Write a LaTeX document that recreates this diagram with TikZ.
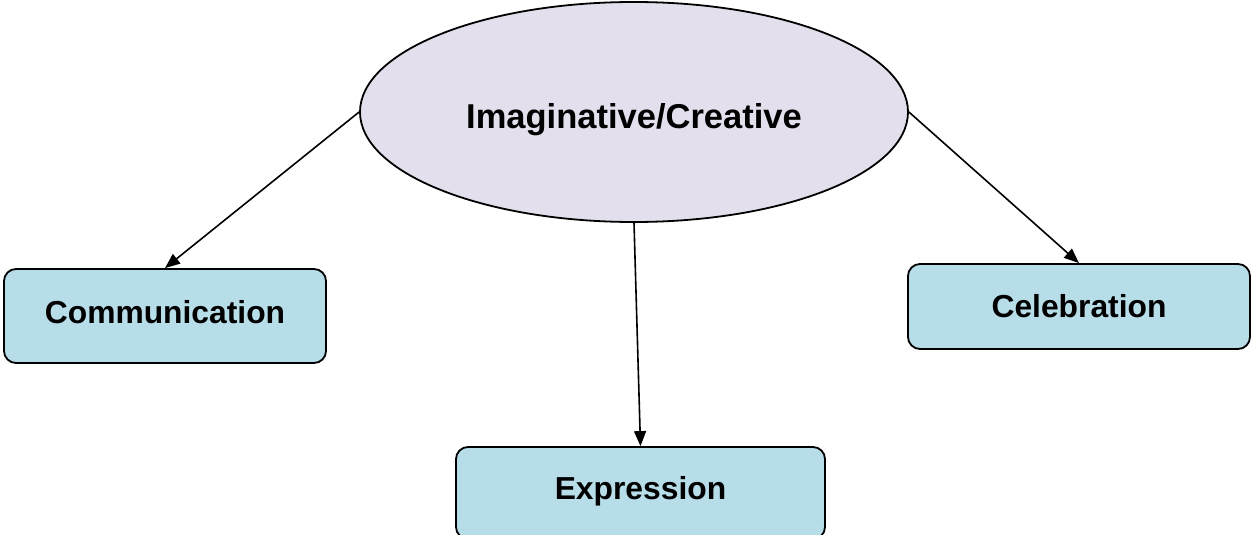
\documentclass[tikz,border=0pt]{standalone}
\usepackage{fontspec}
\setmainfont{Liberation Sans}
\usetikzlibrary{shapes.geometric,arrows.meta}
\definecolor{boxfill}{HTML}{B7DDE8}
\definecolor{ovalfill}{HTML}{E4DFEC}
% shift a label vertically without changing the box size seen by the node
\newcommand{\nudge}[2]{\raisebox{#1}[\height][\depth]{#2}}
\tikzset{
  topic/.style={ellipse, draw=black, line width=1.8pt, fill=ovalfill,
    minimum width=548pt, minimum height=220pt, inner sep=0pt,
    font=\fontsize{34.5}{40}\selectfont\bfseries},
  leaf/.style={rectangle, rounded corners=12pt, draw=black, line width=1.8pt,
    fill=boxfill, inner sep=0pt,
    font=\fontsize{31.8}{36}\selectfont\bfseries},
  link/.style={line width=1.6pt, -{Triangle[length=15pt,width=12pt]}}
}
\begin{document}
\begin{tikzpicture}[x=1pt,y=-1pt]
  \useasboundingbox (0,0) rectangle (1251,535);
  % central oval
  \node[topic] (core) at (634,112) {\nudge{-8pt}{Imaginative/Creative}};
  % three outcomes
  \node[leaf, minimum width=322pt, minimum height=94pt] (comm) at (165,316) {\nudge{4pt}{Communication}};
  \node[leaf, minimum width=342pt, minimum height=85pt] (celeb) at (1079,306.5) {Celebration};
  \node[leaf, minimum width=369pt, minimum height=92pt] (expr) at (640.5,493) {\nudge{2pt}{Expression}};
  % connectors
  \draw[link] (core.west) -- (comm.north);
  \draw[link] (core.east) -- (celeb.north);
  \draw[link] (core.south) -- (expr.north);
\end{tikzpicture}
\end{document}
